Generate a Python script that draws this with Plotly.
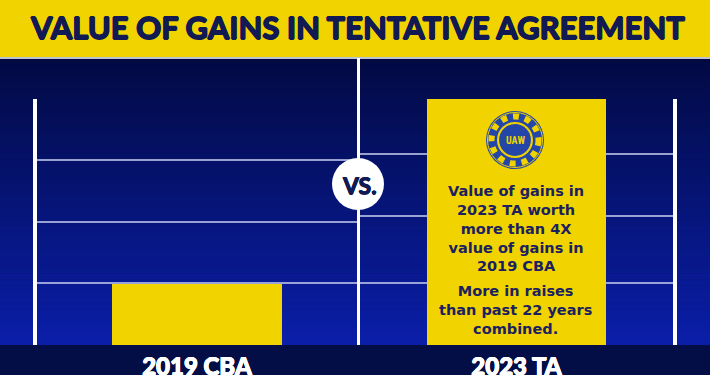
import plotly.graph_objects as go

# ---------------- data ----------------
title_text = "VALUE OF GAINS IN TENTATIVE AGREEMENT"
categories = ["2019 CBA", "2023 TA"]
values = [1.0, 4.0]           # 2023 TA worth more than 4X the 2019 CBA
left_grid = [1, 2, 3, 4]
right_grid = [1, 2.1, 3.1, 4]
box_lines_1 = ["Value of gains in", "2023 TA worth", "more than 4X", "value of gains in", "2019 CBA"]
box_lines_2 = ["More in raises", "than past 22 years", "combined."]
logo_text = "UAW"
vs_text = "VS."

# ---------------- styling helpers ----------------
W, H = 710, 375
def px(x):
    return x / W
def py(y):
    return 1 - y / H

YELLOW = "#F1D300"
NAVY_TEXT = "#111A52"
BOX_TEXT = "#1B2160"
GRID = "rgba(190,198,235,0.8)"

def fatten(col, d=0.7):
    return ", ".join("%gpx %gpx 0 %s" % (a, b, col) for a, b in [(d, 0), (-d, 0), (0, d), (0, -d)])

fig = go.Figure()

fig.add_trace(go.Bar(x=[categories[0]], y=[values[0]], marker=dict(color=YELLOW, line=dict(width=0)),
                     width=[0.53], xaxis="x", yaxis="y", hoverinfo="skip"))
fig.add_trace(go.Bar(x=[categories[1]], y=[values[1]], marker=dict(color=YELLOW, line=dict(width=0)),
                     width=[0.575], xaxis="x2", yaxis="y2", hoverinfo="skip"))

shapes = []
# background gradient
top, bot = 58, 345
n = 48
c0 = (2, 10, 68)
c1 = (10, 30, 168)
for i in range(n):
    t = i / (n - 1)
    col = tuple(int(round(c0[k] + (c1[k] - c0[k]) * t)) for k in range(3))
    y0 = top + (bot - top) * i / n
    y1 = top + (bot - top) * (i + 1) / n + 0.6
    shapes.append(dict(type="rect", xref="paper", yref="paper", x0=0, x1=1, y0=py(y1), y1=py(y0),
                       fillcolor="rgb(%d,%d,%d)" % col, line=dict(width=0), layer="below"))
# banner
shapes.append(dict(type="rect", xref="paper", yref="paper", x0=0, x1=1, y0=py(57), y1=1,
                   fillcolor=YELLOW, line=dict(width=0), layer="below"))
shapes.append(dict(type="line", xref="paper", yref="paper", x0=0, x1=1, y0=py(58), y1=py(58),
                   line=dict(color="white", width=1.5), layer="below"))
# bottom band
shapes.append(dict(type="rect", xref="paper", yref="paper", x0=0, x1=1, y0=0, y1=py(345),
                   fillcolor="#030D46", line=dict(width=0), layer="below"))
# centre divider
shapes.append(dict(type="line", xref="paper", yref="paper", x0=px(358.5), x1=px(358.5), y0=py(345), y1=py(58),
                   line=dict(color="white", width=3), layer="above"))
# vs circle
cx, cy, r = 358, 184, 26
shapes.append(dict(type="circle", xref="paper", yref="paper", x0=px(cx - r), x1=px(cx + r),
                   y0=py(cy + r), y1=py(cy - r), fillcolor="white", line=dict(width=0), layer="above"))
# UAW logo
lx, ly = 515, 140
def circ(rad, fill, lc=None, lw=0, dash=None):
    d = dict(type="circle", xref="paper", yref="paper", x0=px(lx - rad), x1=px(lx + rad),
             y0=py(ly + rad), y1=py(ly - rad), fillcolor=fill, layer="above",
             line=dict(width=lw, color=lc or "rgba(0,0,0,0)"))
    if dash:
        d["line"]["dash"] = dash
    return d
shapes.append(circ(29, "#2346A8"))
shapes.append(circ(23.5, "rgba(0,0,0,0)", YELLOW, 6, "dot"))
shapes.append(circ(18, YELLOW))
shapes.append(circ(16.5, "#2346A8", YELLOW, 1.2))
shapes.append(circ(27.5, "rgba(0,0,0,0)", YELLOW, 1))

annotations = []
annotations.append(dict(text="<b>%s</b>" % title_text, x=px(357), y=py(27), xref="paper", yref="paper",
                        showarrow=False, xanchor="center", yanchor="middle",
                        font=dict(family="Lato", size=31, color=NAVY_TEXT, weight=900,
                                  shadow=fatten(NAVY_TEXT, 0.8))))
annotations.append(dict(text="<b>%s</b>" % vs_text, x=px(359), y=py(185), xref="paper", yref="paper",
                        showarrow=False, xanchor="center", yanchor="middle",
                        font=dict(family="Lato", size=23, color=NAVY_TEXT, weight=900,
                                  shadow=fatten(NAVY_TEXT, 0.5))))
annotations.append(dict(text="<b>%s</b>" % logo_text, x=px(lx), y=py(ly + 0.5), xref="paper", yref="paper",
                        showarrow=False, xanchor="center", yanchor="middle",
                        font=dict(family="Roboto Condensed, Liberation Sans Narrow, Roboto", size=10, color=YELLOW)))
box_font = dict(family="DejaVu Sans", size=14.5, color=BOX_TEXT, weight=700)
annotations.append(dict(text="<br>".join(box_lines_1), x=px(515.5), y=py(228), xref="paper", yref="paper",
                        showarrow=False, xanchor="center", yanchor="middle", align="center", font=box_font))
annotations.append(dict(text="<br>".join(box_lines_2), x=px(515.5), y=py(310), xref="paper", yref="paper",
                        showarrow=False, xanchor="center", yanchor="middle", align="center", font=box_font))

tick_font = dict(family="Lato", size=24, color="white", weight=900, shadow=fatten("white", 0.5))
ydom = [30 / H, (H - 98.5) / H]
fig.update_layout(
    width=W, height=H, autosize=False,
    margin=dict(l=0, r=0, t=0, b=0, autoexpand=False),
    paper_bgcolor="#030D46", plot_bgcolor="rgba(0,0,0,0)",
    showlegend=False, bargap=0,
    shapes=shapes, annotations=annotations,
    xaxis=dict(domain=[px(37), px(357)], showgrid=False, zeroline=False, showline=False, automargin=False,
               ticks="", tickfont=tick_font, ticklabelstandoff=5, fixedrange=True),
    yaxis=dict(domain=ydom, range=[0, 4.0], tickvals=left_grid, showticklabels=False, automargin=False,
               showgrid=True, gridcolor=GRID, gridwidth=1.5, zeroline=False,
               showline=True, linecolor="white", linewidth=4, ticks="", fixedrange=True),
    xaxis2=dict(domain=[px(360), px(673)], anchor="y2", showgrid=False, zeroline=False, showline=False,
                automargin=False, ticks="", tickfont=tick_font, ticklabelstandoff=5, fixedrange=True),
    yaxis2=dict(domain=ydom, anchor="x2", side="right", range=[0, 4.0], tickvals=right_grid,
                showticklabels=False, showgrid=True, gridcolor=GRID, gridwidth=1.5, zeroline=False,
                automargin=False, showline=True, linecolor="white", linewidth=4, ticks="", fixedrange=True),
)

fig.write_html("out.html", config={"displayModeBar": False},
               post_script="document.body.style.margin='0';document.body.style.overflow='hidden';")
